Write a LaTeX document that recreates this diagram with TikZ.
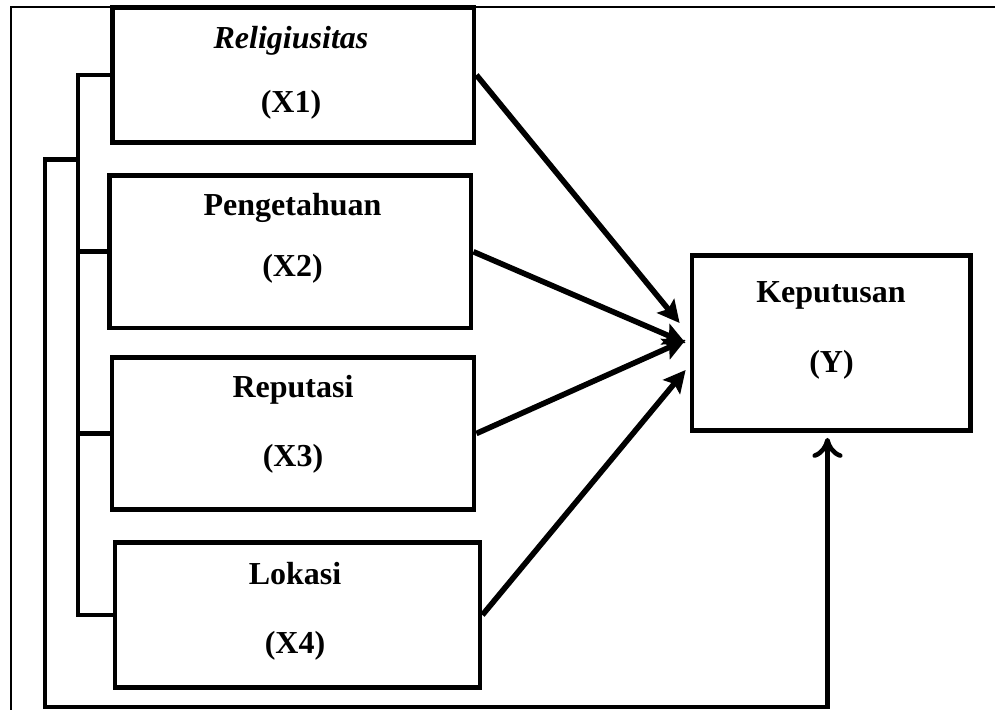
\documentclass[tikz,border=0pt]{standalone}
\usepackage{fontspec}
\setmainfont{Liberation Serif}
\usetikzlibrary{arrows.meta}
\begin{document}
\begin{tikzpicture}[x=0.5pt,y=-0.5pt,line join=miter,
	box/.style={draw,line width=2.4pt,inner sep=0pt},
	lbl/.style={anchor=base,inner sep=0pt,font=\fontsize{16}{19}\selectfont\bfseries},
	link/.style={line width=2.3pt},
	arr/.style={line width=2.8pt,-{Stealth[length=11pt,width=11pt,inset=2pt]}},
	frame/.style={line width=0.9pt}]
			\useasboundingbox (0,0) rectangle (995,710);
			\draw[frame] (11,7) rectangle (1010,725);
			\node[box,minimum width=180.75pt,minimum height=67.5pt] (x1) at (293.25,75) {};
			\node[box,minimum width=180.75pt,minimum height=76.25pt] (x2) at (290.25,251.75) {};
			\node[box,minimum width=181pt,minimum height=76pt] (x3) at (293,433.5) {};
			\node[box,minimum width=182.5pt,minimum height=72.5pt] (x4) at (297.5,615) {};
			\node[box,minimum width=139.25pt,minimum height=87.5pt] (y) at (831.25,343) {};
			\node[lbl] (n1) at (291,49) {\itshape Religiusitas};
			\node[lbl] (k1) at (291,113) {(X1)};
			\node[lbl] (n2) at (292.5,216) {Pengetahuan};
			\node[lbl] (k2) at (292.5,277) {(X2)};
			\node[lbl] (n3) at (293,398) {Reputasi};
			\node[lbl] (k3) at (293,467) {(X3)};
			\node[lbl] (n4) at (295,584) {Lokasi};
			\node[lbl] (k4) at (295,653) {(X4)};
			\node[lbl] (ny) at (831,303) {Keputusan};
			\node[lbl] (ky) at (831.5,373) {(Y)};
			% bracket on the left
			\coordinate (bx) at (78,0);
			\draw[link] (x1.west) -- (x1.west -| bx) -- (x4.west -| bx) -- (x4.west);
			\foreach \i in {2,3} \draw[link] (x\i.west -| bx) -- (x\i.west);
			\coordinate (o1) at (45,159.5);
			\coordinate (o2) at (45,707);
			\coordinate (yin) at ([xshift=-1.9pt,yshift=-2.5pt]y.south);
			\draw[link,-{To[length=10pt,width=15pt]}] (bx |- o1) -- (o1) -- (o2) -- (o2 -| yin) -- (yin);
			% arrows to Y
			\draw[arr] (x1.east) -- ([xshift=-5pt,yshift=10pt]y.west);
			\draw[arr] (x2.east) -- ([xshift=-2pt]y.west);
			\draw[arr] (x3.east) -- ([xshift=-2pt,yshift=1.5pt]y.west);
			\draw[arr] (x4.east) -- ([xshift=-2pt,yshift=-13.5pt]y.west);
			\end{tikzpicture}
\end{document}
